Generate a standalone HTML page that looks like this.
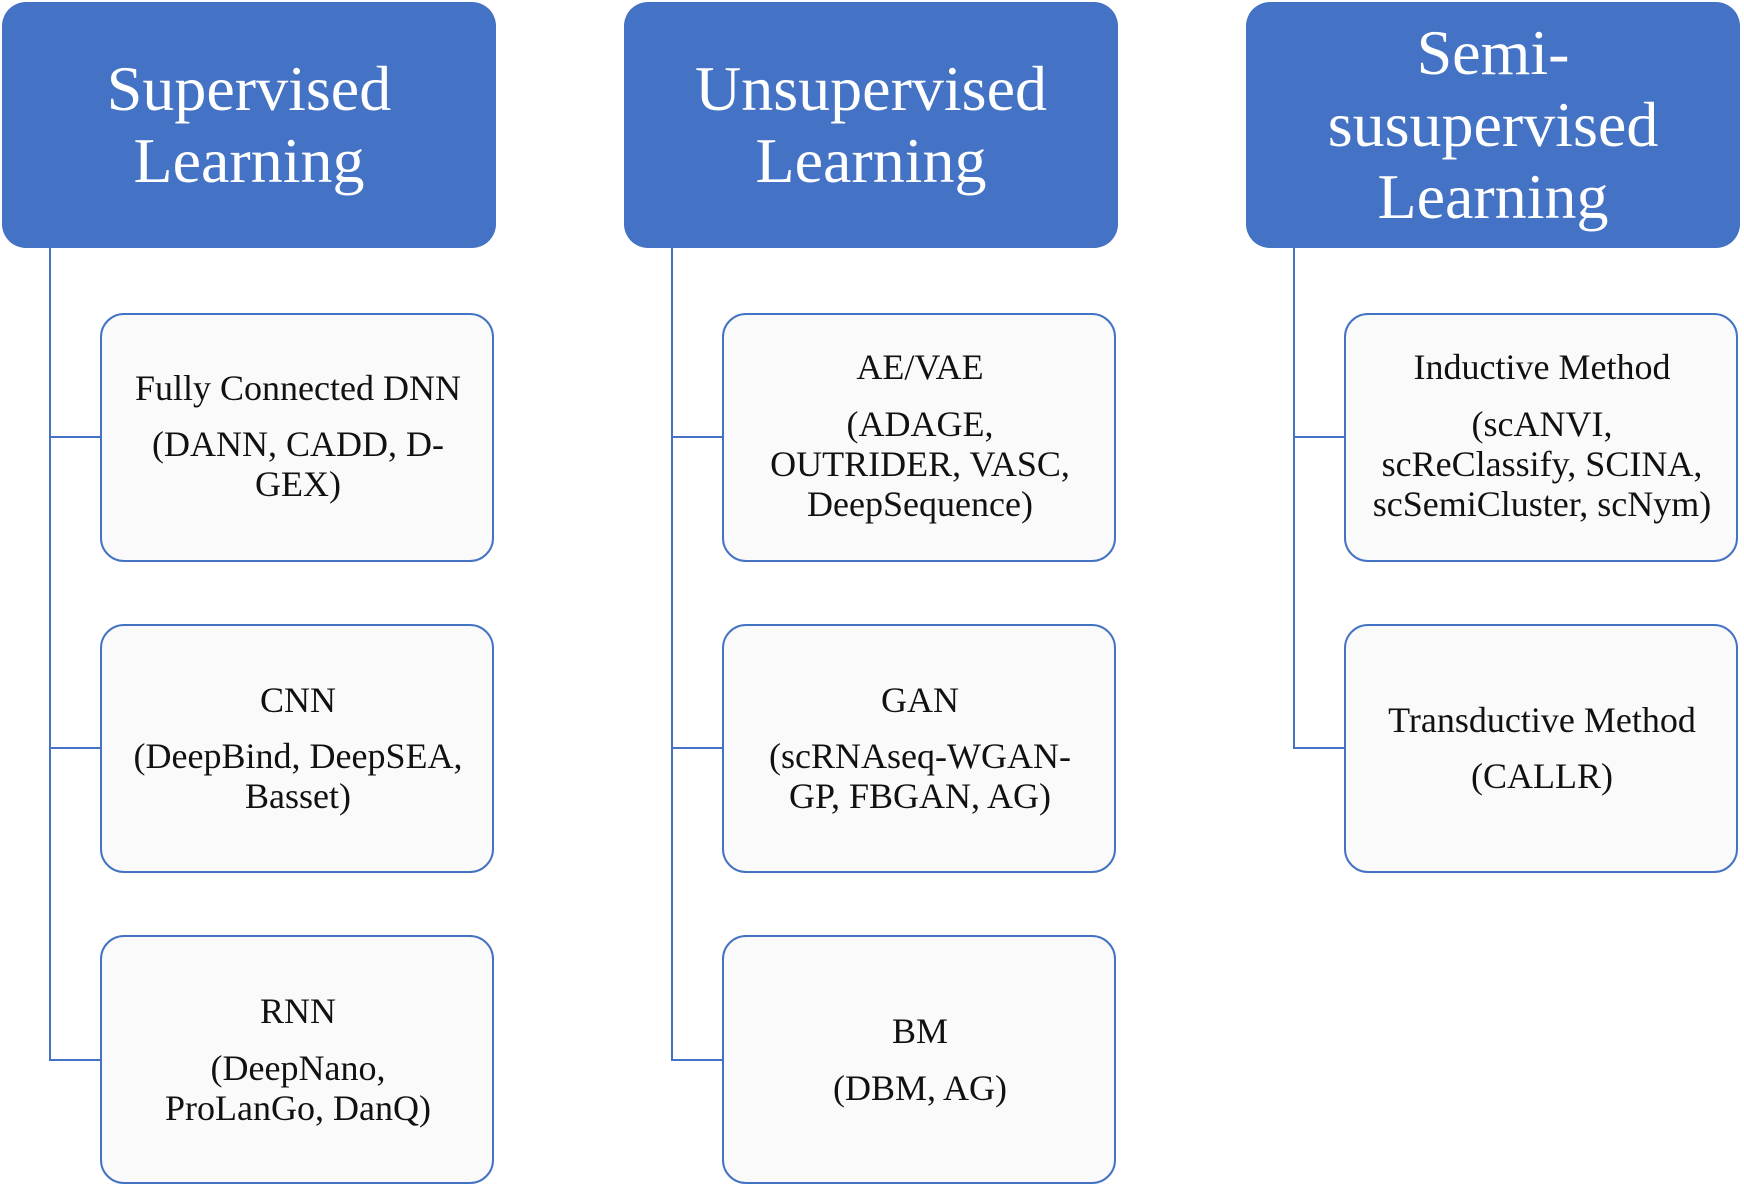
<!DOCTYPE html>
<html><head><meta charset="utf-8"><style>
body{margin:0;width:1744px;height:1186px;background:#fff;position:relative;overflow:hidden;font-family:"Liberation Serif",serif}
.h{position:absolute;background:#4472c4;border-radius:24px;top:2px;height:246px;width:494px}
.b{position:absolute;background:#fafafa;border:2px solid #4472c4;border-radius:24px;width:394px;box-sizing:border-box}
.t{position:absolute;width:700px;text-align:center;font-size:36px;line-height:40px;height:40px;color:#111;white-space:nowrap}
.T{position:absolute;width:700px;text-align:center;font-size:64px;line-height:72px;height:72px;color:#fff;white-space:nowrap}
.l{position:absolute;background:#4472c4}
</style></head><body>
<div class="h" style="left:2px"></div>
<div class="h" style="left:624px"></div>
<div class="h" style="left:1246px"></div>

<div class="l" style="left:49px;top:248px;width:2px;height:813px"></div>
<div class="l" style="left:49px;top:436px;width:51px;height:2px"></div>
<div class="l" style="left:49px;top:747px;width:51px;height:2px"></div>
<div class="l" style="left:49px;top:1059px;width:51px;height:2px"></div>

<div class="l" style="left:671px;top:248px;width:2px;height:813px"></div>
<div class="l" style="left:671px;top:436px;width:51px;height:2px"></div>
<div class="l" style="left:671px;top:747px;width:51px;height:2px"></div>
<div class="l" style="left:671px;top:1059px;width:51px;height:2px"></div>

<div class="l" style="left:1293px;top:248px;width:2px;height:501px"></div>
<div class="l" style="left:1293px;top:436px;width:51px;height:2px"></div>
<div class="l" style="left:1293px;top:747px;width:51px;height:2px"></div>

<div class="b" style="left:100px;top:313px;height:249px"></div>
<div class="b" style="left:100px;top:624px;height:249px"></div>
<div class="b" style="left:100px;top:935px;height:249px"></div>
<div class="b" style="left:722px;top:313px;height:249px"></div>
<div class="b" style="left:722px;top:624px;height:249px"></div>
<div class="b" style="left:722px;top:935px;height:249px"></div>
<div class="b" style="left:1344px;top:313px;height:249px"></div>
<div class="b" style="left:1344px;top:624px;height:249px"></div>

<div class="T" style="left:-101px;top:53px">Supervised</div>
<div class="T" style="left:-101px;top:125px">Learning</div>
<div class="T" style="left:521px;top:53px">Unsupervised</div>
<div class="T" style="left:521px;top:125px">Learning</div>
<div class="T" style="left:1143px;top:17px">Semi-</div>
<div class="T" style="left:1143px;top:89px">susupervised</div>
<div class="T" style="left:1143px;top:161px">Learning</div>

<div class="t" style="left:-52px;top:368px">Fully Connected DNN</div>
<div class="t" style="left:-52px;top:424px">(DANN, CADD, D-</div>
<div class="t" style="left:-52px;top:464px">GEX)</div>
<div class="t" style="left:-52px;top:680px">CNN</div>
<div class="t" style="left:-52px;top:736px">(DeepBind, DeepSEA,</div>
<div class="t" style="left:-52px;top:776px">Basset)</div>
<div class="t" style="left:-52px;top:991px">RNN</div>
<div class="t" style="left:-52px;top:1048px">(DeepNano,</div>
<div class="t" style="left:-52px;top:1088px">ProLanGo, DanQ)</div>

<div class="t" style="left:570px;top:347px">AE/VAE</div>
<div class="t" style="left:570px;top:404px">(ADAGE,</div>
<div class="t" style="left:570px;top:444px">OUTRIDER, VASC,</div>
<div class="t" style="left:570px;top:484px">DeepSequence)</div>
<div class="t" style="left:570px;top:680px">GAN</div>
<div class="t" style="left:570px;top:736px">(scRNAseq-WGAN-</div>
<div class="t" style="left:570px;top:776px">GP, FBGAN, AG)</div>
<div class="t" style="left:570px;top:1011px">BM</div>
<div class="t" style="left:570px;top:1068px">(DBM, AG)</div>

<div class="t" style="left:1192px;top:347px">Inductive Method</div>
<div class="t" style="left:1192px;top:404px">(scANVI,</div>
<div class="t" style="left:1192px;top:444px">scReClassify, SCINA,</div>
<div class="t" style="left:1192px;top:484px">scSemiCluster, scNym)</div>
<div class="t" style="left:1192px;top:700px">Transductive Method</div>
<div class="t" style="left:1192px;top:756px">(CALLR)</div>
</body></html>
